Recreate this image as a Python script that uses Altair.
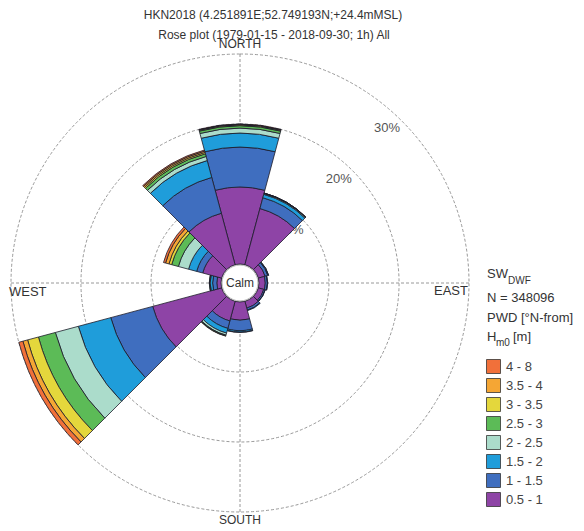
import math
import altair as alt
import pandas as pd

FONT = "Liberation Sans"

# ---- data ----
directions = [0, 30, 60, 90, 120, 150, 180, 210, 240, 270, 300, 330]
classes = ["0.5 - 1", "1 - 1.5", "1.5 - 2", "2 - 2.5", "2.5 - 3", "3 - 3.5", "3.5 - 4", "4 - 8"]
colors = ["#8E44A6", "#3F6EBF", "#1F9DDA", "#ABDCCB", "#5CBB57", "#E4D73C", "#F5A634", "#F1703A"]

# percentage of occurrence per direction sector for each Hm0 class
h_05_1 = [11.0, 8.3, 1.0, 0.9, 0.8, 1.0, 2.6, 2.9, 10.2, 0.6, 2.8, 7.6]
h_1_15 = [5.7, 1.6, 0.4, 0.3, 0.2, 0.3, 1.5, 1.1, 6.2, 0.6, 0.9, 5.3]
h_15_2 = [2.0, 0.5, 0.1, 0.05, 0.03, 0.08, 0.2, 0.7, 4.8, 0.35, 1.2, 2.5]
h_2_25 = [0.7, 0.12, 0.03, 0.0, 0.0, 0.0, 0.05, 0.3, 3.4, 0.1, 1.5, 0.6]
h_25_3 = [0.35, 0.05, 0.0, 0.0, 0.0, 0.0, 0.0, 0.1, 2.5, 0.03, 1.0, 0.4]
h_3_35 = [0.12, 0.02, 0.0, 0.0, 0.0, 0.0, 0.0, 0.05, 1.6, 0.0, 0.4, 0.2]
h_35_4 = [0.08, 0.01, 0.0, 0.0, 0.0, 0.0, 0.0, 0.0, 0.7, 0.0, 0.5, 0.2]
h_4_8 = [0.05, 0.0, 0.0, 0.0, 0.0, 0.0, 0.0, 0.0, 0.6, 0.0, 0.3, 0.15]
class_values = [h_05_1, h_1_15, h_15_2, h_2_25, h_25_3, h_3_35, h_35_4, h_4_8]

ring_levels = [10, 20, 30]
ring_labels = ["10%", "20%", "30%"]

title1 = "HKN2018 (4.251891E;52.749193N;+24.4mMSL)"
title2 = "Rose plot  (1979-01-15 - 2018-09-30; 1h) All"

# ---- build stacked table ----
rows = []
for i, d in enumerate(directions):
    cum = 0.0
    for c, vals in zip(classes, class_values):
        v = vals[i]
        if v > 0:
            rows.append({"dir": d, "a0": d - 15, "a1": d + 15, "r0": cum, "r1": cum + v, "cls": c})
        cum += v
df = pd.DataFrame(rows)

# ---- geometry / scales ----
CX, CY = 232, 275
RMIN, RMAX = 19, 229
tscale = alt.Scale(type="linear", domain=[0, 360], range=[0, 2 * math.pi])
rscale = alt.Scale(type="linear", domain=[0, 30], range=[RMIN, RMAX])
dummy = pd.DataFrame({"k": [0]})

rings = alt.Chart(pd.DataFrame({"ring": ring_levels, "t0": [0] * 3, "t1": [360] * 3})).mark_arc(
    filled=False, stroke="#8c8c8c", strokeWidth=0.9, strokeDash=[3, 2]
).encode(
    theta=alt.Theta("t0:Q", scale=tscale, stack=False),
    theta2="t1:Q",
    radius=alt.Radius("ring:Q", scale=rscale),
    x=alt.value(CX), y=alt.value(CY),
)

hline = alt.Chart(dummy).mark_rule(color="#8c8c8c", strokeWidth=0.9, strokeDash=[3, 2]).encode(
    x=alt.value(CX - RMAX), x2=alt.value(CX + RMAX), y=alt.value(CY)
)
vline = alt.Chart(dummy).mark_rule(color="#8c8c8c", strokeWidth=0.9, strokeDash=[3, 2]).encode(
    x=alt.value(CX), y=alt.value(CY - RMAX), y2=alt.value(CY + RMAX)
)

ring_text = alt.Chart(pd.DataFrame({"lab": ring_labels, "t": [43.5] * 3,
                                    "rp": [r - 2.2 for r in ring_levels]})).mark_text(
    fontSize=13, font=FONT, color="#555555"
).encode(
    theta=alt.Theta("t:Q", scale=tscale, stack=False),
    radius=alt.Radius("rp:Q", scale=rscale),
    text="lab:N",
    x=alt.value(CX), y=alt.value(CY),
)

sectors = alt.Chart(df).mark_arc(stroke="#1c1c2a", strokeWidth=0.8).encode(
    theta=alt.Theta("a0:Q", scale=tscale, stack=False),
    theta2="a1:Q",
    radius=alt.Radius("r1:Q", scale=rscale),
    radius2="r0:Q",
    color=alt.Color(
        "cls:N",
        scale=alt.Scale(domain=classes[::-1], range=colors[::-1]),
        legend=alt.Legend(
            title=None, orient="none", legendX=478, legendY=351,
            symbolType="square", symbolSize=196, symbolStrokeColor="#333333",
            symbolStrokeWidth=0.8, labelFontSize=13, labelFont=FONT,
            labelColor="#444444", rowPadding=0, labelOffset=5, padding=0,
        ),
    ),
    x=alt.value(CX), y=alt.value(CY),
)

calm = alt.Chart(dummy).mark_arc(fill="white", stroke="#9a9a9a", strokeWidth=0.8).encode(
    theta=alt.value(0), theta2=alt.value(2 * math.pi), radius=alt.value(18),
    x=alt.value(CX), y=alt.value(CY),
)


def txt(s, x, y, size=12, align="center", color="#333333"):
    return alt.Chart(dummy).mark_text(
        text=s, fontSize=size, align=align, baseline="middle", color=color, font=FONT
    ).encode(x=alt.value(x), y=alt.value(y))


texts = [
    txt("Calm", CX, CY, 12),
    txt(title1, 265, 7, 12),
    txt(title2, 266, 27, 12),
    txt("NORTH", CX, 36, 12),
    txt("SOUTH", CX, 512, 12),
    txt("WEST", 1, 284, 13, "left"),
    txt("EAST", 460, 283, 13, "right"),
    txt("SW", 479, 266, 13, "left"),
    txt("DWF", 500, 273, 10, "left"),
    txt("N = 348096", 479, 290, 13, "left"),
    txt("PWD [°N-from]", 479, 310, 13, "left"),
    txt("H", 479, 329, 13, "left"),
    txt("m0", 488, 335, 10, "left"),
    txt("[m]", 505, 329, 13, "left"),
]

chart = alt.layer(rings, hline, vline, ring_text, sectors, calm, *texts).properties(
    width=568, height=522, padding=0, autosize=alt.AutoSizeParams(type="none")
).configure_view(strokeWidth=0)

chart.save("out.html", embed_options={"renderer": "svg", "actions": False})
